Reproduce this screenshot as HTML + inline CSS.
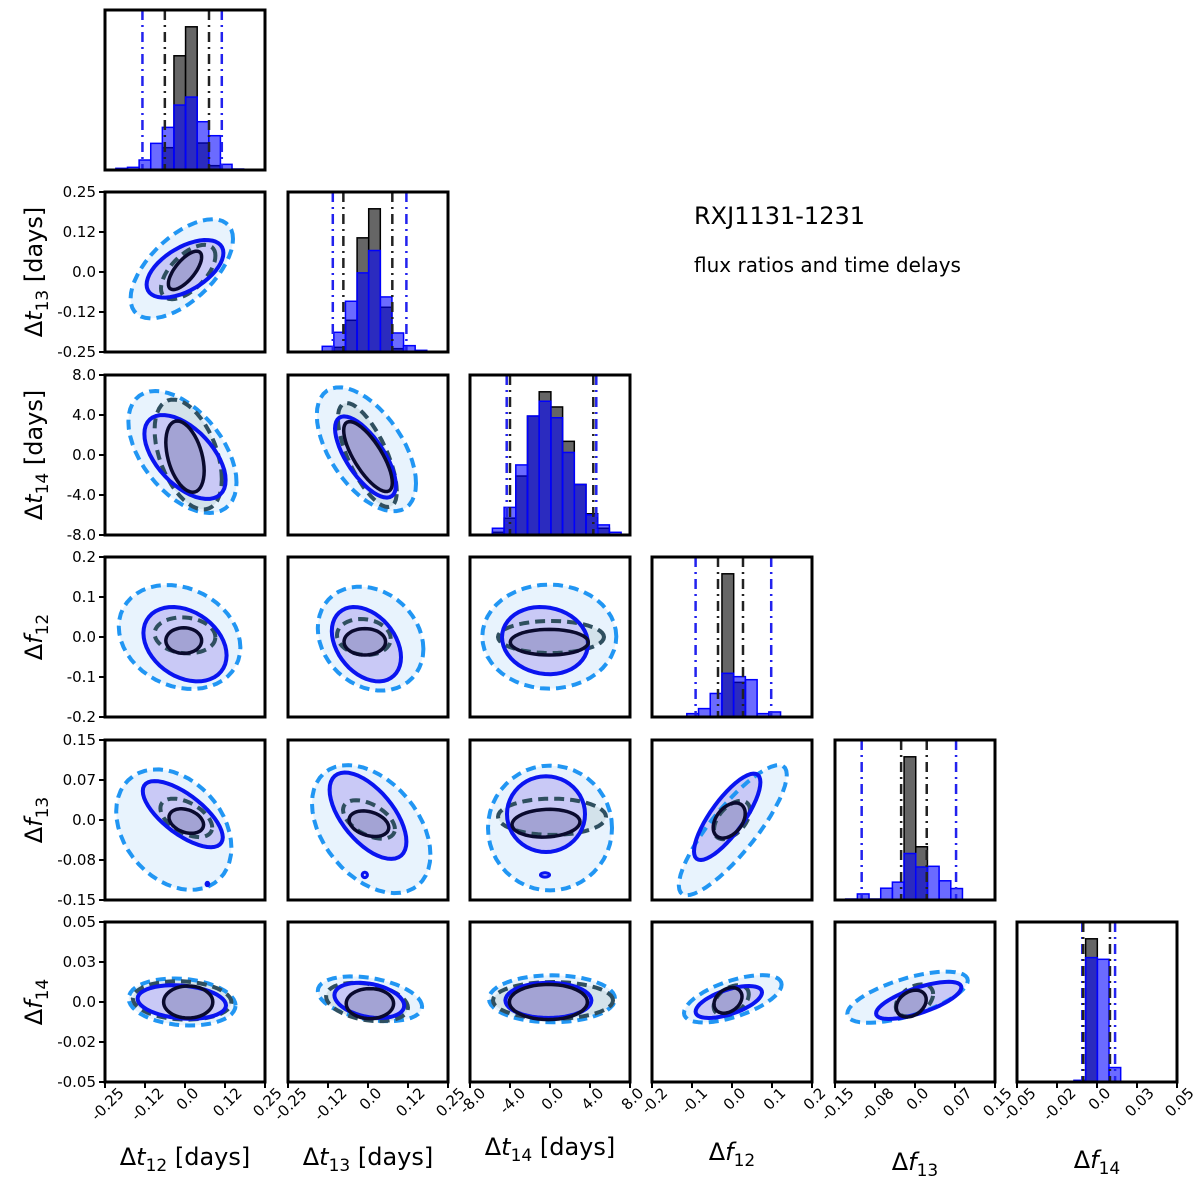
<!DOCTYPE html>
<html><head><meta charset="utf-8"><title>RXJ1131-1231 corner plot</title>
<style>html,body{margin:0;padding:0;background:#fff}svg{display:block}</style></head>
<body>
<svg id="chart" width="1200" height="1187" viewBox="0 0 1200 1187" xmlns="http://www.w3.org/2000/svg" font-family="DejaVu Sans, Liberation Sans, sans-serif">
<text x="694" y="224" font-size="24" fill="#000">RXJ1131-1231</text>
<text x="694" y="272" font-size="20" fill="#000">flux ratios and time delays</text>
</svg>
<script>
// ---- data ----
const paramNames = ["t12","t13","t14","f12","f13","f14"];
const axisMin = [-0.25,-0.25,-8,-0.2,-0.15,-0.05];
const axisMax = [0.25,0.25,8,0.2,0.15,0.05];
const tickLabels = [
 ["-0.25","-0.12","0.0","0.12","0.25"],
 ["-0.25","-0.12","0.0","0.12","0.25"],
 ["-8.0","-4.0","0.0","4.0","8.0"],
 ["-0.2","-0.1","0.0","0.1","0.2"],
 ["-0.15","-0.08","0.0","0.07","0.15"],
 ["-0.05","-0.02","0.0","0.03","0.05"]
];
// histograms (relative counts)
const histStart = [-0.216,-0.143,-6.93,-0.113,-0.13,-0.0144];
const histWidth = [0.0363,0.0363,1.17,0.0293,0.0219,0.0073];
const histBlue = [
 [5,8,30,80,128,195,219,145,103,17,3],
 [17,59,152,237,304,165,57,19,5],
 [2,20,82,208,353,397,348,245,150,60,30,8],
 [10,25,70,130,120,111,10,15],
 [3,18,3,35,53,138,98,100,57,34],
 [5,370,365,43]
];
const histGray = [
 [0,0,0,0,67,343,430,81,13,0,0],
 [0,14,95,342,429,134,10,0,0],
 [0,8,50,175,353,425,380,278,150,63,20,0],
 [0,0,0,426,103,0,0,0],
 [0,0,0,0,0,425,158,0,0,0],
 [0,426,0,0]
];
const blueLo = [-0.133,-0.11,-4.33,-0.091,-0.1,-0.0092];
const blueHi = [0.115,0.12,4.63,0.098,0.077,0.0113];
const grayLo = [-0.063,-0.077,-4.0,-0.035,-0.026,-0.0086];
const grayHi = [0.075,0.076,4.33,0.0275,0.022,0.0081];
// contours: [row, col, centerX, centerY, halfWidthX, halfWidthY, rho]
const grayInner = [
 [1,0,0,0.005,0.052,0.06,0.7],
 [2,0,0,-0.16,0.06,3.56,-0.4],[2,1,0,-0.16,0.076,3.5,-0.75],
 [3,0,-0.004,-0.009,0.056,0.032,0],[3,1,-0.01,-0.012,0.065,0.033,0],[3,2,-0.07,-0.013,3.9,0.032,0],
 [4,0,0.004,-0.002,0.054,0.023,-0.3],[4,1,0.003,-0.007,0.062,0.024,-0.3],[4,2,-0.4,-0.006,3.4,0.026,0.1],[4,3,-0.007,-0.001,0.04,0.033,0.4],
 [5,0,0.01,0,0.077,0.01,0],[5,1,0.006,-0.001,0.074,0.0094,0],[5,2,-0.16,0,3.9,0.011,0],[5,3,-0.01,0.001,0.035,0.008,0.3],[5,4,-0.007,-0.001,0.028,0.0084,0.3]
];
const grayOuter = [
 [1,0,0.01,0,0.085,0.085,0.6],
 [2,0,0.01,0.05,0.105,5.5,-0.45],[2,1,-0.002,0,0.092,5.2,-0.7],
 [3,0,0,0.004,0.095,0.045,-0.1],[3,1,-0.013,0,0.084,0.045,-0.1],[3,2,0.1,0,5.3,0.04,0],
 [4,0,0.004,0.004,0.081,0.036,-0.5],[4,1,0.003,0.001,0.081,0.036,-0.5],[4,2,0.2,0.006,5.4,0.034,0],[4,3,0,0,0.045,0.036,0.5],
 [5,0,-0.009,0.001,0.154,0.012,-0.1],[5,1,-0.003,0,0.128,0.012,-0.3],[5,2,0.3,0.001,6,0.0115,0],[5,3,-0.002,0.001,0.044,0.0095,0.4],[5,4,-0.001,0.001,0.035,0.01,0.4]
];
const blueInner = [
 [1,0,0,0.01,0.12,0.09,0.55],
 [2,0,0,-0.2,0.127,4.2,-0.55],[2,1,-0.008,-0.2,0.095,4.06,-0.7],
 [3,0,0,-0.018,0.13,0.093,-0.3],[3,1,-0.005,-0.018,0.108,0.093,-0.35],[3,2,-0.5,-0.009,4.3,0.084,-0.1],
 [4,0,-0.007,0.011,0.125,0.062,-0.7],[4,1,0,0.008,0.12,0.081,-0.6],[4,2,-0.4,0.011,3.9,0.071,0],[4,3,-0.012,0.006,0.083,0.081,0.8],
 [5,0,-0.01,0,0.138,0.0105,-0.2],[5,1,0.004,0.001,0.109,0.011,-0.3],[5,2,-0.16,0.001,4.3,0.011,0],[5,3,-0.008,0,0.083,0.01,0.6],[5,4,0.007,0.001,0.08,0.0116,0.7]
];
const blueOuter = [
 [1,0,-0.01,0.01,0.16,0.155,0.6],
 [2,0,-0.008,0.3,0.169,6.1,-0.5],[2,1,-0.005,0.57,0.155,6.2,-0.55],
 [3,0,-0.017,0,0.19,0.13,-0.2],[3,1,0.008,-0.004,0.165,0.13,-0.2],[3,2,-0.07,0.001,6.7,0.13,0],
 [4,0,-0.035,-0.018,0.18,0.113,-0.3],[4,1,0.01,-0.017,0.185,0.12,-0.4],[4,2,0,-0.015,6.2,0.117,0],[4,3,0.002,-0.019,0.135,0.122,0.85],
 [5,0,-0.009,0,0.167,0.0147,-0.15],[5,1,0.006,0.002,0.163,0.014,-0.35],[5,2,0.2,0.002,6.3,0.0147,0],[5,3,0.002,0.002,0.122,0.0148,0.6],[5,4,-0.014,0.003,0.113,0.016,0.65]
];
const blueBlobs = [
 [4,1,-0.01,-0.103,0.008,0.005,0],
 [4,2,-0.5,-0.103,0.45,0.004,0],
 [4,0,0.07,-0.12,0.004,0.003,0]
];

// ---- layout ----
const colX=[105,288,470,652,835,1017], rowY=[10,192,375,557,740,922], P=160;
const svg=document.getElementById('chart');
const NS='http://www.w3.org/2000/svg';
function sxf(i,v){return colX[i]+(v-axisMin[i])/(axisMax[i]-axisMin[i])*P;}
function syf(j,v){return rowY[j]+P-(v-axisMin[j])/(axisMax[j]-axisMin[j])*P;}
function mk(tag,attrs,parent){const e=document.createElementNS(NS,tag);for(const k in attrs)e.setAttribute(k,attrs[k]);(parent||svg).appendChild(e);return e;}

function ellPath(r,c,p,scale){
  const [,, cx,cy,hx,hy,rho]=p;const s=Math.sqrt(1-rho*rho);let d='';
  for(let k=0;k<=48;k++){const t=k/48*2*Math.PI;
    const x=cx+hx*scale*Math.cos(t), y=cy+hy*scale*(rho*Math.cos(t)+s*Math.sin(t));
    d+=(k?'L':'M')+sxf(c,x).toFixed(1)+','+syf(r,y).toFixed(1);}
  return d+'Z';
}

const defs=mk('defs',{});
for(let r=0;r<6;r++)for(let c=0;c<=r;c++){
  const cp=mk('clipPath',{id:'clip'+r+c},defs);
  mk('rect',{x:colX[c],y:rowY[r],width:P,height:P},cp);
}

function drawSet(arr,fill,stroke,dash,width,name,kind){
  arr.forEach(p=>{const r=p[0],c=p[1];
    const e=mk('path',{d:ellPath(r,c,p,1),'clip-path':'url(#clip'+r+c+')',fill:kind==='fill'?fill:'none',stroke:kind==='fill'?'none':stroke,'stroke-width':width,'stroke-dasharray':dash,'stroke-linejoin':'round'});
    
    
  });
}
drawSet(blueOuter,'#e8f3fd',null,'none',0,'blue-2sigma-fill','fill');
drawSet(grayOuter,'#d3e2ea',null,'none',0,'gray-2sigma-fill','fill');
drawSet(blueInner,'#c9c9f6',null,'none',0,'blue-1sigma-fill','fill');
drawSet(grayInner,'#a3a3d4',null,'none',0,'gray-1sigma-fill','fill');
drawSet(blueOuter,null,'#2196f3','10,6',4,'blue-2sigma-contour','line');
drawSet(grayOuter,null,'#2f4f5f','10,6',4,'gray-2sigma-contour','line');
drawSet(blueInner,null,'#0a14f0','none',4,'blue-1sigma-contour','line');
drawSet(grayInner,null,'#0a0a2e','none',3.5,'gray-1sigma-contour','line');
blueBlobs.forEach(p=>{const r=p[0],c=p[1];
  const e=mk('path',{d:ellPath(r,c,p,1),'clip-path':'url(#clip'+r+c+')',fill:'#c9c9f6',stroke:'#0a14f0','stroke-width':3});
  
  
});

// histograms
for(let i=0;i<6;i++){
  const mx=Math.max(...histBlue[i],...histGray[i])/0.895;
  const base=rowY[i]+P;
  const g=mk('g',{'clip-path':'url(#clip'+i+i+')'});
  
  
  histGray[i].forEach((v,k)=>{if(v<=0)return;
    const x0=sxf(i,histStart[i]+k*histWidth[i]),x1=sxf(i,histStart[i]+(k+1)*histWidth[i]),h=v/mx*P;
    const e=mk('rect',{x:x0,y:base-h,width:x1-x0,height:h,fill:'#666',stroke:'#000','stroke-width':1.5},g);
    
    
  });
  histBlue[i].forEach((v,k)=>{if(v<=0)return;
    const x0=sxf(i,histStart[i]+k*histWidth[i]),x1=sxf(i,histStart[i]+(k+1)*histWidth[i]),h=v/mx*P;
    const e=mk('rect',{x:x0,y:base-h,width:x1-x0,height:h,fill:'rgba(0,0,255,0.58)',stroke:'#0000ff','stroke-width':1.5},g);
    
    
  });
  [[blueLo[i],'#2222ee'],[blueHi[i],'#2222ee'],[grayLo[i],'#222'],[grayHi[i],'#222']].forEach(([v,col])=>{
    const x=sxf(i,v);
    const e=mk('line',{x1:x,x2:x,y1:rowY[i],y2:base,stroke:col,'stroke-width':2.5,'stroke-dasharray':'10,5,2,5'},g);
    
    
  });
}

// frames
for(let r=0;r<6;r++)for(let c=0;c<=r;c++){
  const e=mk('rect',{x:colX[c],y:rowY[r],width:P,height:P,fill:'none',stroke:'#000','stroke-width':3});
  
  
}

// ticks
const fr=[0,0.25,0.5,0.75,1];
for(let r=1;r<6;r++){fr.forEach((f,k)=>{
  const y=rowY[r]+P-f*P;
  const t=mk('line',{x1:colX[0]-6,x2:colX[0],y1:y,y2:y,stroke:'#000','stroke-width':2});
  
  
  const l=mk('text',{x:colX[0]-9,y:y+5,'font-size':15,'text-anchor':'end'});
  l.textContent=tickLabels[r][k];
  
  
});}
for(let c=0;c<6;c++){fr.forEach((f,k)=>{
  const x=colX[c]+f*P, y=rowY[5]+P;
  const t=mk('line',{x1:x,x2:x,y1:y,y2:y+6,stroke:'#000','stroke-width':2});
  
  
  const l=mk('text',{x:0,y:0,'font-size':15,'text-anchor':'end'});
  l.textContent=tickLabels[c][k];
  
  
  const L=l.getComputedTextLength();
  const xe=x+L*0.354+6, ye=y+12;
  l.setAttribute('x',xe);l.setAttribute('y',ye);
  l.setAttribute('transform','rotate(-45 '+xe+' '+ye+')');
});}

// axis titles
function label(sym,sub,days,x,y,rot,name){
  const t=mk('text',{x:x,y:y,'font-size':24,'text-anchor':'middle',transform:rot?'rotate(-90 '+x+' '+y+')':''});
  
  
  const a=mk('tspan',{},t);a.textContent='Δ';
  const b=mk('tspan',{'font-style':'italic'},t);b.textContent=sym;
  const s=mk('tspan',{dy:6,'font-size':17},t);s.textContent=sub;
  if(days){const d=mk('tspan',{dy:-6},t);d.textContent=' [days]';}
}
label('t','12',true,185,1165,false,'x-axis-title-t12');
label('t','13',true,368,1165,false,'x-axis-title-t13');
label('t','14',true,550,1155,false,'x-axis-title-t14');
label('f','12',false,732,1160,false,'x-axis-title-f12');
label('f','13',false,915,1170,false,'x-axis-title-f13');
label('f','14',false,1097,1168,false,'x-axis-title-f14');
label('t','13',true,42,272,true,'y-axis-title-t13');
label('t','14',true,42,455,true,'y-axis-title-t14');
label('f','12',false,42,637,true,'y-axis-title-f12');
label('f','13',false,42,820,true,'y-axis-title-f13');
label('f','14',false,42,1002,true,'y-axis-title-f14');
</script>
</body></html>
